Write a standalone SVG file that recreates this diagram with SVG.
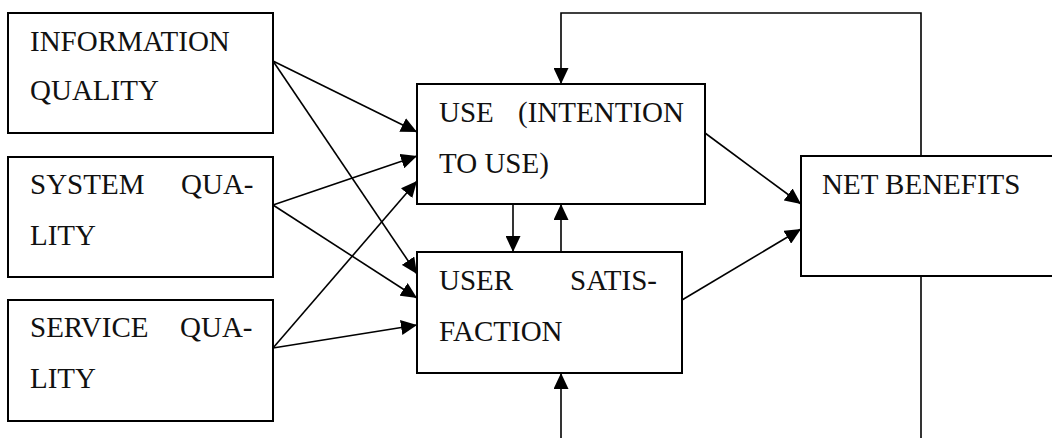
<svg xmlns="http://www.w3.org/2000/svg" width="1052" height="438" viewBox="0 0 1052 438">
  <style>
    .box { fill: #fff; stroke: #000; stroke-width: 2; }
    .lbl { font-family: "Liberation Serif", "Times New Roman", serif; font-size: 29px; fill: #111; }
    .edge { fill: none; stroke: #000; stroke-width: 1.6; }
    .arr { marker-end: url(#head); }
  </style>
  <defs>
    <marker id="head" markerUnits="userSpaceOnUse" markerWidth="16" markerHeight="15" refX="16" refY="7.5" orient="auto">
      <path d="M0,0 L16,7.5 L0,15 z" fill="#000"/>
    </marker>
  </defs>
  <rect width="1052" height="438" fill="#fff"/>

  <!-- connectors -->
  <g id="connectors">
    <!-- information quality -->
    <line class="edge arr" x1="273" y1="61" x2="417" y2="132"/>
    <line class="edge arr" x1="273" y1="61" x2="417" y2="274"/>
    <!-- system quality -->
    <line class="edge arr" x1="273" y1="205" x2="417" y2="156"/>
    <line class="edge arr" x1="273" y1="205" x2="417" y2="298"/>
    <!-- service quality -->
    <line class="edge arr" x1="273" y1="348" x2="417" y2="181"/>
    <line class="edge arr" x1="273" y1="348" x2="417" y2="325"/>
    <!-- use <-> user satisfaction -->
    <line class="edge arr" x1="513" y1="204" x2="513" y2="252"/>
    <line class="edge arr" x1="561" y1="252" x2="561" y2="204"/>
    <!-- to net benefits -->
    <line class="edge arr" x1="705" y1="133" x2="801" y2="204"/>
    <line class="edge arr" x1="682" y1="300" x2="801" y2="229"/>
    <!-- feedback loops -->
    <polyline class="edge arr" points="921,156 921,13 561,13 561,84"/>
    <line class="edge" x1="921" y1="276" x2="921" y2="438"/>
    <line class="edge arr" x1="561" y1="438" x2="561" y2="373"/>
  </g>

  <g id="information-quality">
    <rect class="box" x="8" y="13" width="265" height="120"/>
    <text class="lbl" x="30" y="51">INFORMATION</text>
    <text class="lbl" x="30" y="100">QUALITY</text>
  </g>

  <g id="system-quality">
    <rect class="box" x="8" y="157" width="265" height="120"/>
    <text class="lbl" x="30" y="194">SYSTEM</text>
    <text class="lbl" x="181" y="194">QUA-</text>
    <text class="lbl" x="30" y="245">LITY</text>
  </g>

  <g id="service-quality">
    <rect class="box" x="8" y="300" width="265" height="121"/>
    <text class="lbl" x="30" y="337">SERVICE</text>
    <text class="lbl" x="180" y="337">QUA-</text>
    <text class="lbl" x="30" y="388">LITY</text>
  </g>

  <g id="use">
    <rect class="box" x="417" y="84" width="288" height="120"/>
    <text class="lbl" x="439" y="122">USE</text>
    <text class="lbl" x="518" y="122">(INTENTION</text>
    <text class="lbl" x="439" y="173">TO USE)</text>
  </g>

  <g id="user-satisfaction">
    <rect class="box" x="417" y="252" width="265" height="121"/>
    <text class="lbl" x="439" y="290">USER</text>
    <text class="lbl" x="570" y="290">SATIS-</text>
    <text class="lbl" x="439" y="341">FACTION</text>
  </g>

  <g id="net-benefits">
    <rect class="box" x="801" y="156" width="260" height="120"/>
    <text class="lbl" x="822" y="194">NET BENEFITS</text>
  </g>
</svg>
